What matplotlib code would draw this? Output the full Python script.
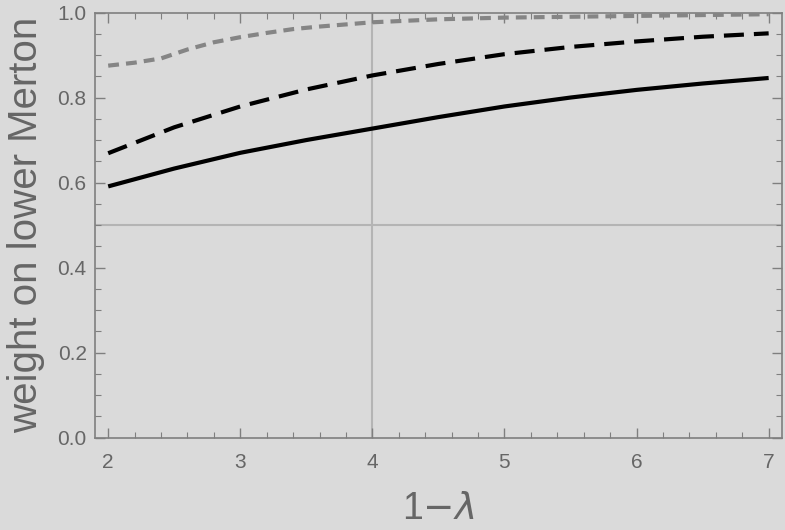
import numpy as np
import matplotlib.pyplot as plt
from matplotlib.ticker import MultipleLocator

# values
x_solid = [2.0, 2.5, 3.0, 3.5, 4.0, 4.5, 5.0, 5.5, 6.0, 6.5, 7.0]
y_solid = [0.591, 0.633, 0.670, 0.700, 0.727, 0.754, 0.779, 0.800, 0.818, 0.833, 0.846]

x_dashed = [2.0, 2.5, 3.0, 3.5, 4.0, 4.5, 5.0, 5.5, 6.0, 6.5, 7.0]
y_dashed = [0.669, 0.730, 0.779, 0.819, 0.852, 0.879, 0.902, 0.919, 0.932, 0.943, 0.951]

x_dotted = [2.0, 2.2, 2.4, 2.6, 2.8, 3.0, 3.2, 3.4, 3.6, 3.8, 4.0, 4.5, 5.0, 5.5, 6.0, 6.5, 7.0]
y_dotted = [0.875, 0.882, 0.892, 0.913, 0.930, 0.942, 0.952, 0.961, 0.967, 0.972, 0.977,
            0.984, 0.988, 0.990, 0.992, 0.994, 0.996]

bg = '#dadada'
frame = '#7f7f7f'
txt = '#666666'

plt.rcParams['font.family'] = ['Liberation Sans Narrow', 'Liberation Sans', 'DejaVu Sans']

fig = plt.figure(figsize=(7.85, 5.3), dpi=100, facecolor=bg)
ax = fig.add_axes([0.121, 0.1742, 0.875, 0.8022], facecolor=bg)

ax.axvline(4, color='#b4b4b4', lw=1.5, zorder=1)
ax.axhline(0.5, color='#b4b4b4', lw=1.5, zorder=1)

ax.plot(x_solid, y_solid, color='black', lw=3, solid_capstyle='butt', zorder=3)
ax.plot(x_dashed, y_dashed, color='black', lw=3, dashes=(4.8, 2.4), zorder=3)
ax.plot(x_dotted, y_dotted, color='#858585', lw=3, dashes=(2.6, 1.7), zorder=3)

ax.set_xlim(1.9, 7.1)
ax.set_ylim(0, 1.0)
ax.xaxis.set_major_locator(MultipleLocator(1))
ax.xaxis.set_minor_locator(MultipleLocator(0.2))
ax.yaxis.set_major_locator(MultipleLocator(0.2))
ax.yaxis.set_minor_locator(MultipleLocator(0.05))
ax.yaxis.set_major_formatter(lambda v, p: f'{v:.1f}')

ax.tick_params(which='both', direction='in', top=True, right=True, color=frame,
               labelcolor=txt, labelsize=15)
ax.tick_params(which='major', length=7, width=1)
ax.tick_params(which='minor', length=4, width=0.8)
ax.tick_params(axis='x', pad=11)
ax.tick_params(axis='y', pad=6)
for s in ax.spines.values():
    s.set_color(frame)
    s.set_linewidth(1.2)

ax.set_ylabel('weight on lower Merton', fontsize=29, color=txt,
              family=['Liberation Sans', 'DejaVu Sans'], labelpad=9)
ax.set_xlabel(r'1$-\mathit{\lambda}$', fontsize=27, color=txt,
              family=['Liberation Sans', 'DejaVu Sans'], labelpad=14)

fig.savefig('out.png', dpi=100, facecolor=bg)
